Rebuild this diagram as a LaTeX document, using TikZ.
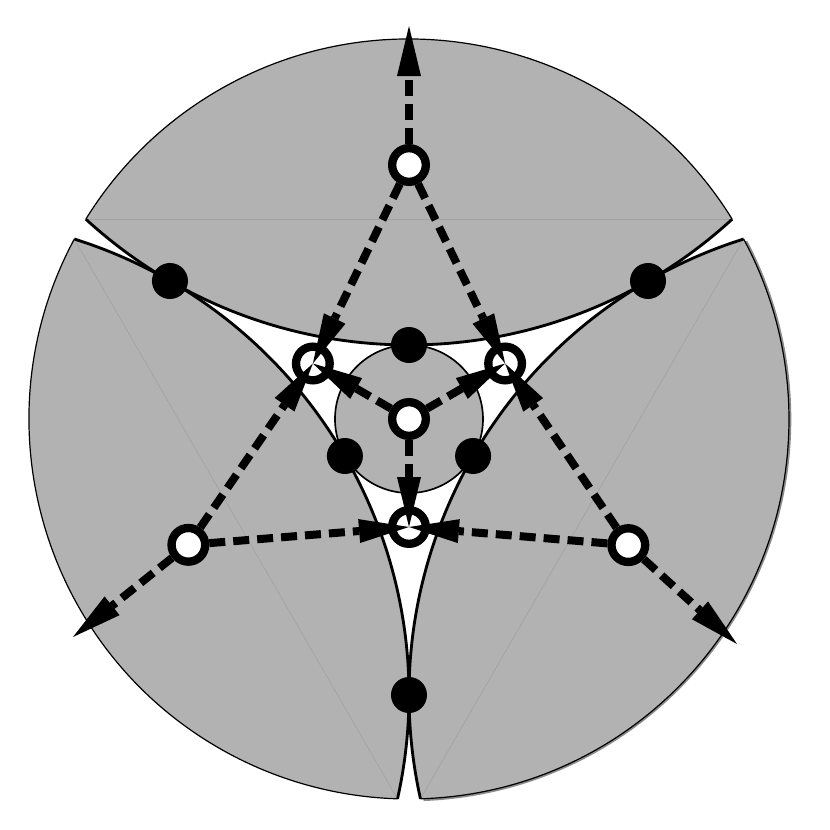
\documentclass[tikz,border=0pt]{standalone}
\usetikzlibrary{arrows.meta}
\begin{document}
\begin{tikzpicture}[x=0.03cm,y=0.03cm,
  regfill/.style={fill=black!30},
  rim/.style={draw=black, line width=0.036cm},
  rimshade/.style={draw=black!45, line width=0.08cm},
  geo/.style={draw=black, line width=0.085cm},
  seam/.style={draw=black!36, line width=0.02cm},
  hub/.style={fill=black!30, draw=black, line width=0.05cm},
  hollow/.style={circle, draw=black, fill=white, line width=0.25cm, minimum size=1.01cm, inner sep=0pt},
  dot/.style={circle, fill=black, minimum size=1.08cm, inner sep=0pt},
  flow/.style={line width=0.24cm, dash pattern=on 0.48cm off 0.24cm,
    -{Triangle[length=1.5cm,width=0.72cm,line width=0pt]}}
]
\useasboundingbox (-409,-411) rectangle (421,419);
% grey regions
\foreach \r in {0,120,240}{
  \begin{scope}[rotate=\r]
    \fill[regfill] (31.73:380) arc[start angle=31.73,end angle=148.27,radius=380]
      arc[start angle=227.46,end angle=312.54,radius=478.05] -- cycle;
    \draw[seam] (31.73:380) -- (148.27:380);
  \end{scope}
}
% shading on right rim
\draw[rimshade] (272.2:381) arc[start angle=272.2,end angle=387.8,radius=381];
% outlines
\foreach \r in {0,120,240}{
  \begin{scope}[rotate=\r]
    \draw[rim] (31.73:380) arc[start angle=31.73,end angle=148.27,radius=380];
    \draw[geo] (148.27:380) arc[start angle=227.46,end angle=312.54,radius=478.05];
  \end{scope}
}
% central disc
\draw[hub] (0,0) circle[radius=74];
% black dots
\node[dot] (d1) at (90:74) {};
\node[dot] (d2) at (210:74) {};
\node[dot] (d3) at (330:74) {};
\node[dot] (d4) at (150:276) {};
\node[dot] (d5) at (30:276) {};
\node[dot] (d6) at (270:276) {};
% hollow nodes
\node[hollow] (c0) at (0,0) {};
\node[hollow] (ot) at (90:254) {};
\node[hollow] (ol) at (209.7:254) {};
\node[hollow] (or) at (330.1:253) {};
\node[hollow] (il) at (150:111) {};
\node[hollow] (ir) at (30:111) {};
\node[hollow] (ib) at (270:108) {};
\coordinate (tt) at (0,393);
\coordinate (tl) at (-336,-218);
\coordinate (tr) at (328,-225);
% arrows
\draw[flow] (ot) -- (il.center);
\draw[flow] (ot) -- (ir.center);
\draw[flow] (ot) -- (tt);
\draw[flow] (ol) -- (il.center);
\draw[flow] (ol) -- (ib.center);
\draw[flow] (ol) -- (tl);
\draw[flow] (or) -- (ir.center);
\draw[flow] (or) -- (ib.center);
\draw[flow] (or) -- (tr);
\draw[flow] (c0) -- (il.center);
\draw[flow] (c0) -- (ir.center);
\draw[flow] (c0) -- (ib.center);
\end{tikzpicture}
\end{document}
